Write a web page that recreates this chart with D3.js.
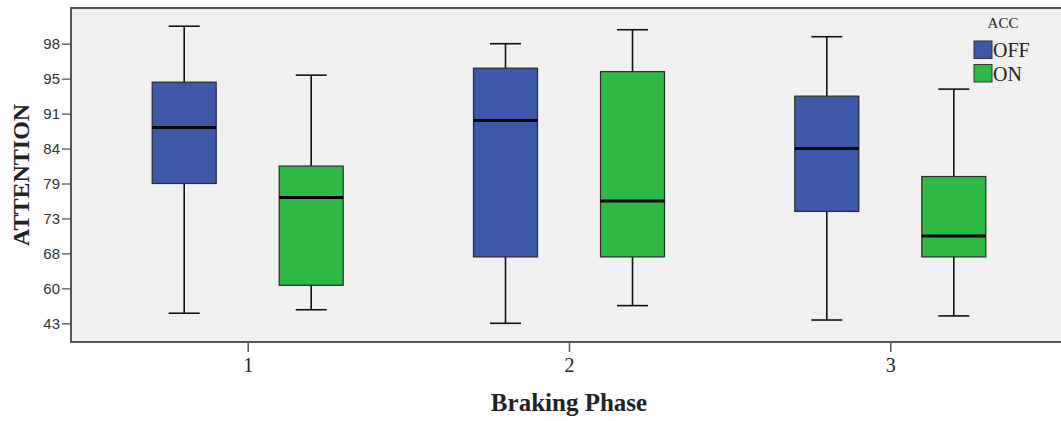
<!DOCTYPE html>
<html>
<head>
<meta charset="utf-8">
<script src="https://cdn.jsdelivr.net/npm/d3@7"></script>
<style>
  body { margin: 0; background: #fff; }
  svg { display: block; }
</style>
</head>
<body>
<svg id="chart" width="1061" height="421"></svg>
<script>
// categories and groups
var phases = ["1", "2", "3"];
var accLevels = ["OFF", "ON"];
var accColors = ["#3d57a9", "#2eb845"];

// y axis tick labels (SPSS shows them evenly spaced)
var yTicks = [43, 60, 68, 73, 79, 84, 91, 95, 98];

// box stats per phase: [min, q1, median, q3, max]
var offStats = [
    [47.9, 79.0, 88.2, 94.6, 99.5],
    [43.0, 67.2, 89.6, 95.9, 98.0],
    [44.6, 74.2, 84.0, 93.0, 98.6]
];
var onStats = [
    [49.6, 60.7, 76.6, 81.5, 95.3],
    [51.6, 67.2, 76.0, 95.6, 99.2],
    [46.6, 67.2, 70.5, 80.0, 93.8]
];

var svg = d3.select("#chart");

// note: "top" is reserved on window, so use plot* names
var plotLeft = 71, plotTop = 8, plotBottom = 342, plotRight = 1061;

// piecewise scale so the odd tick values sit evenly spaced
var tickStep = 34.95;
var y0 = 323.3;
var yScale = d3.scaleLinear()
    .domain(yTicks)
    .range(yTicks.map(function(d, i){ return y0 - i*tickStep; }));

var xScale = d3.scalePoint()
    .domain(phases)
    .range([247.7, 890.3]);

var offset = 63.5; // distance of each box from category center
var boxW = 64;
var capW = 31;

// plot background, frame only on left / top / bottom (cut at the right)
svg.append("rect")
    .attr("x", plotLeft)
    .attr("y", plotTop)
    .attr("width", plotRight - plotLeft)
    .attr("height", plotBottom - plotTop)
    .attr("fill", "#f0f0f0");

svg.append("path")
    .attr("d", "M" + plotRight + "," + plotTop + "H" + plotLeft + "V" + plotBottom + "H" + plotRight)
    .attr("fill", "none")
    .attr("stroke", "#555")
    .attr("stroke-width", 2);

// y axis
var yAxis = d3.axisLeft(yScale)
    .tickValues(yTicks)
    .tickSize(8)
    .tickPadding(2);

var gy = svg.append("g")
    .attr("transform", "translate(" + (plotLeft - 1) + ",0)")
    .call(yAxis);
gy.select(".domain").remove();
gy.selectAll(".tick line").attr("stroke", "#555").attr("stroke-width", 1.3);
gy.selectAll(".tick text")
    .attr("fill", "#333")
    .style("font-family", "'Liberation Sans', Arial, sans-serif")
    .style("font-size", "15px");

// x axis
var xAxis = d3.axisBottom(xScale)
    .tickSize(9)
    .tickPadding(6);

var gx = svg.append("g")
    .attr("transform", "translate(0," + (plotBottom + 1) + ")")
    .call(xAxis);
gx.select(".domain").remove();
gx.selectAll(".tick line").attr("stroke", "#555").attr("stroke-width", 1.5);
gx.selectAll(".tick text")
    .attr("fill", "#222")
    .style("font-family", "'Liberation Serif', 'Times New Roman', serif")
    .style("font-size", "20px");

// boxes
var boxes = [];
phases.forEach(function(p, i){
    boxes.push({phase: p, acc: 0, s: offStats[i]});
    boxes.push({phase: p, acc: 1, s: onStats[i]});
});

var g = svg.selectAll("g.box")
    .data(boxes)
    .enter()
    .append("g")
    .attr("class", "box")
    .attr("transform", function(d){
        var cx = xScale(d.phase) + (d.acc === 0 ? -offset : offset);
        return "translate(" + cx + ",0)";
    });

// whiskers
g.append("line")
    .attr("x1", 0).attr("x2", 0)
    .attr("y1", function(d){ return yScale(d.s[4]); })
    .attr("y2", function(d){ return yScale(d.s[3]); })
    .attr("stroke", "#111").attr("stroke-width", 1.6);
g.append("line")
    .attr("x1", 0).attr("x2", 0)
    .attr("y1", function(d){ return yScale(d.s[1]); })
    .attr("y2", function(d){ return yScale(d.s[0]); })
    .attr("stroke", "#111").attr("stroke-width", 1.6);
g.append("line")
    .attr("x1", -capW/2).attr("x2", capW/2)
    .attr("y1", function(d){ return yScale(d.s[4]); })
    .attr("y2", function(d){ return yScale(d.s[4]); })
    .attr("stroke", "#111").attr("stroke-width", 1.6);
g.append("line")
    .attr("x1", -capW/2).attr("x2", capW/2)
    .attr("y1", function(d){ return yScale(d.s[0]); })
    .attr("y2", function(d){ return yScale(d.s[0]); })
    .attr("stroke", "#111").attr("stroke-width", 1.6);

// box
g.append("rect")
    .attr("x", -boxW/2)
    .attr("width", boxW)
    .attr("y", function(d){ return yScale(d.s[3]); })
    .attr("height", function(d){ return yScale(d.s[1]) - yScale(d.s[3]); })
    .attr("fill", function(d){ return accColors[d.acc]; })
    .attr("stroke", "#2a2a2a")
    .attr("stroke-width", 1.2);

// median
g.append("line")
    .attr("x1", -boxW/2).attr("x2", boxW/2)
    .attr("y1", function(d){ return yScale(d.s[2]); })
    .attr("y2", function(d){ return yScale(d.s[2]); })
    .attr("stroke", "#000").attr("stroke-width", 3);

// legend
var legend = svg.append("g").attr("transform", "translate(974,0)");
legend.append("text")
    .attr("x", 29).attr("y", 28)
    .attr("text-anchor", "middle")
    .style("font-family", "'Liberation Serif', 'Times New Roman', serif")
    .style("font-size", "15px")
    .attr("fill", "#222")
    .text("ACC");

var li = legend.selectAll("g.item")
    .data(accLevels)
    .enter()
    .append("g")
    .attr("class", "item")
    .attr("transform", function(d, i){ return "translate(0," + (41 + i*23.5) + ")"; });
li.append("rect")
    .attr("width", 18).attr("height", 17.5)
    .attr("fill", function(d, i){ return accColors[i]; })
    .attr("stroke", "#333").attr("stroke-width", 1);
li.append("text")
    .attr("x", 19).attr("y", 16)
    .style("font-family", "'Liberation Serif', 'Times New Roman', serif")
    .style("font-size", "20px")
    .attr("fill", "#222")
    .text(function(d){ return d; });

// axis titles
svg.append("text")
    .attr("transform", "translate(29,175) rotate(-90)")
    .attr("text-anchor", "middle")
    .style("font-family", "'Liberation Serif', 'Times New Roman', serif")
    .style("font-size", "24px")
    .style("font-weight", "bold")
    .attr("fill", "#222")
    .text("ATTENTION");

svg.append("text")
    .attr("x", 569).attr("y", 410.5)
    .attr("text-anchor", "middle")
    .style("font-family", "'Liberation Serif', 'Times New Roman', serif")
    .style("font-size", "25px")
    .style("font-weight", "bold")
    .attr("fill", "#222")
    .text("Braking Phase");
</script>
</body>
</html>
